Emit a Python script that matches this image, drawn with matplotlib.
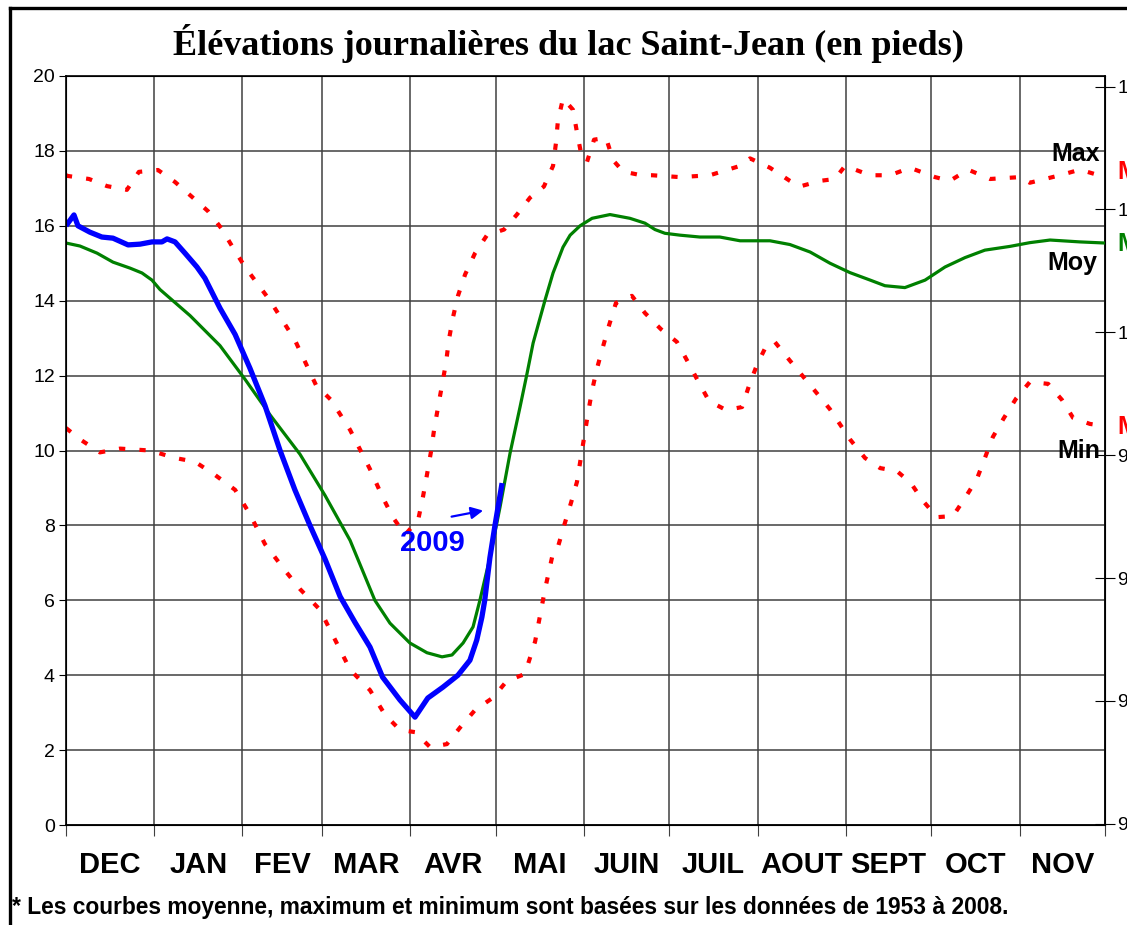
import matplotlib
matplotlib.use('Agg')
import matplotlib.pyplot as plt
from matplotlib.lines import Line2D
import numpy as np

# jours depuis le 1er décembre et élévations (pieds)
max_days = [0, 0.7, 8.1, 14.4, 21.4, 25.6, 32.3, 38.3, 44.3, 49.9, 54.5, 58.7, 62.9, 71.7, 80.4,
            87.8, 93.1, 99.8, 106.8, 111.2, 114.8, 119.1, 123.7, 125.4, 126.8, 128.2, 129.3,
            130.7, 132.1, 133.5, 134.5, 135.9, 137.7, 140.2, 143.7, 147.9, 153.9, 158.4, 163.0,
            167.9, 171.1, 172.1, 172.8, 174.6, 178.1, 179.5, 180.9, 183.0, 185.5, 189.7, 192.2,
            195.7, 202.0, 205.9, 215.7, 226.2, 236.8, 240.3, 247.3, 254.3, 257.8, 264.9, 270.1,
            273.7, 282.5, 289.5, 296.5, 305.3, 310.5, 316.9, 324.6, 335.1, 338.6, 349.2, 356.2, 365]
max_vals = [17.35, 17.33, 17.25, 17.06, 16.96, 17.44, 17.49, 17.17, 16.77, 16.39, 15.94, 15.41, 14.9, 14.0, 12.95,
            11.75, 11.35, 10.55, 9.5, 8.76, 8.22, 7.75, 8.14, 8.76, 9.35, 9.96, 10.55,
            11.16, 11.75, 12.34, 12.95, 13.54, 14.13, 14.7, 15.27, 15.75, 15.9, 16.3, 16.75,
            17.05, 17.6, 18.2, 18.8, 19.4, 19.1, 18.5, 17.95, 17.7, 18.3, 18.35, 17.75,
            17.45, 17.35, 17.35, 17.3, 17.35, 17.6, 17.8, 17.55, 17.2, 17.05, 17.2, 17.25,
            17.6, 17.35, 17.35, 17.55, 17.3, 17.2, 17.5, 17.25, 17.3, 17.15, 17.35, 17.5, 17.3]

min_days = [0, 4.9, 11.9, 19.0, 29.5, 38.3, 45.3, 52.3, 59.4, 64.6, 69.9, 76.9, 82.2, 89.2, 94.5,
            99.8, 106.8, 112.1, 117.3, 122.6, 127.9, 133.8, 138.4, 143.7, 150.0, 154.9, 161.2,
            164.8, 168.3, 170.9, 172.8, 175.0, 177.4, 179.5, 181.7, 183.4, 184.8, 186.5, 188.6,
            190.8, 193.2, 198.8, 203.4, 209.0, 214.6, 218.5, 222.0, 225.9, 231.9, 237.5, 239.9,
            242.7, 246.3, 249.0, 254.3, 261.4, 268.4, 275.4, 280.7, 286.0, 291.9, 296.8, 301.1,
            306.0, 311.6, 315.8, 320.0, 322.8, 325.6, 329.5, 333.7, 338.6, 345.0, 349.9, 353.8,
            359.7, 365]
min_vals = [10.6, 10.3, 9.95, 10.05, 10.0, 9.8, 9.7, 9.35, 8.95, 8.3, 7.5, 6.8, 6.3, 5.75, 4.95,
            4.15, 3.6, 2.94, 2.54, 2.48, 2.08, 2.16, 2.6, 3.07, 3.4, 3.85, 4.03,
            4.9, 6.3, 7.2, 7.42, 8.0, 8.6, 9.16, 10.2, 11.0, 11.6, 12.18, 12.76,
            13.35, 13.94, 14.13, 13.67, 13.24, 12.9, 12.36, 11.86, 11.32, 11.08, 11.16, 11.72,
            12.28, 12.84, 12.9, 12.4, 11.75, 11.1, 10.3, 9.8, 9.53, 9.45, 9.13, 8.65,
            8.22, 8.25, 8.73, 9.24, 9.8, 10.36, 10.87, 11.38, 11.83, 11.78, 11.35, 10.87,
            10.71, 10.65]

moy_days = [0, 4.9, 10.9, 16.5, 22.5, 26.7, 30.2, 33.0, 43.6, 54.1, 62.9, 71.7, 82.2, 91.0, 99.8,
            108.5, 113.8, 120.8, 126.8, 132.1, 135.6, 139.5, 143.0, 145.4, 148.9, 152.5, 156.0,
            159.5, 162.0, 164.1, 168.3, 171.1, 174.6, 177.1, 180.6, 184.8, 191.1, 198.1, 203.4,
            206.9, 210.4, 215.7, 222.7, 229.7, 236.8, 247.3, 254.3, 261.4, 268.4, 275.4, 282.5,
            287.7, 294.7, 301.8, 308.8, 315.8, 322.8, 331.6, 338.6, 345.7, 356.2, 365]
moy_vals = [15.54, 15.46, 15.27, 15.03, 14.87, 14.74, 14.55, 14.3, 13.6, 12.8, 11.9, 10.95, 9.9, 8.8, 7.6,
            6.0, 5.39, 4.86, 4.6, 4.49, 4.54, 4.86, 5.29, 6.0, 7.13, 8.5, 9.93,
            11.16, 12.07, 12.87, 14.02, 14.74, 15.43, 15.75, 16.0, 16.2, 16.3, 16.2, 16.07,
            15.9, 15.8, 15.75, 15.7, 15.7, 15.6, 15.6, 15.5, 15.3, 15.0, 14.75, 14.55,
            14.4, 14.35, 14.55, 14.9, 15.15, 15.35, 15.45, 15.55, 15.62, 15.57, 15.54]

y2009_days = [0, 2.8, 4.2, 8.4, 12.6, 16.5, 21.8, 26.0, 30.2, 33.7, 35.5, 38.3, 41.8, 46.0, 48.8,
              54.1, 59.4, 64.6, 69.9, 75.2, 80.4, 85.7, 91.0, 96.3, 101.6, 106.8, 111.2, 117.3,
              122.6, 127.1, 132.4, 137.7, 141.9, 144.3, 146.1, 147.1, 148.9, 150.7, 153.2]
y2009_vals = [16.0, 16.29, 16.0, 15.83, 15.7, 15.67, 15.49, 15.51, 15.57, 15.57, 15.65, 15.57, 15.27, 14.9, 14.6,
              13.8, 13.1, 12.2, 11.2, 10.0, 8.95, 8.0, 7.1, 6.1, 5.4, 4.75, 3.95, 3.34,
              2.88, 3.39, 3.68, 4.0, 4.4, 4.94, 5.55, 6.0, 7.13, 8.0, 9.13]

months = ['DEC', 'JAN', 'FEV', 'MAR', 'AVR', 'MAI', 'JUIN', 'JUIL', 'AOUT', 'SEPT', 'OCT', 'NOV']
month_len = [31, 31, 28, 31, 30, 31, 30, 31, 31, 30, 31, 30]
left_ticks = list(range(0, 21, 2))
right_ticks = list(range(96, 103))

plt.rcParams['font.family'] = ['Liberation Sans', 'DejaVu Sans']

bounds = np.concatenate([[0], np.cumsum(month_len)])
centers = (bounds[:-1] + bounds[1:]) / 2

fig = plt.figure(figsize=(11.27, 9.25), dpi=100)
ax = fig.add_axes([66 / 1127, 100 / 925, 1039 / 1127, 749 / 925])

ax.plot(max_days, max_vals, color='#ff0000', lw=3.0, linestyle=(0, (1.5, 3.4)), zorder=3)
ax.plot(min_days, min_vals, color='#ff0000', lw=3.0, linestyle=(0, (1.5, 3.4)), zorder=3)
ax.plot(moy_days, moy_vals, color='#008000', lw=2.3, zorder=4)
ax.plot(y2009_days, y2009_vals, color='#0000ff', lw=3.8, zorder=5, solid_capstyle='butt')

ax.set_xlim(0, 365)
ax.set_ylim(0, 20)
ax.set_yticks(left_ticks)
ax.set_xticks(bounds)
ax.set_xticklabels([])
ax.set_xticks(centers, minor=True)
ax.set_xticklabels(months, minor=True, fontsize=21, fontweight='bold')
ax.tick_params(axis='x', which='major', direction='out', length=8, color='#404040')
ax.tick_params(axis='x', which='minor', length=0, pad=19)
ax.tick_params(axis='y', direction='out', length=5, labelsize=14, pad=3)
ax.grid(True, which='major', color='#404040', lw=1.1)
for s in ax.spines.values():
    s.set_color('black')
    s.set_linewidth(1.2)

ax2 = ax.twinx()
ax2.set_ylim(95.99, 95.99 + 20 / 3.2808)
ax2.set_yticks(right_ticks)
ax2.tick_params(axis='y', direction='inout', length=14, labelsize=14, pad=2)

# étiquettes des courbes
ax.text(363.2, 17.92, 'Max', ha='right', va='center', fontsize=18, fontweight='bold', zorder=6)
ax.text(362.2, 15.0, 'Moy', ha='right', va='center', fontsize=18, fontweight='bold', zorder=6)
ax.text(363.2, 9.99, 'Min', ha='right', va='center', fontsize=18, fontweight='bold', zorder=6)
tr = ax.get_yaxis_transform()
ax.text(1.0116, 17.44, 'Max', transform=tr, color='#ff0000', fontsize=18, fontweight='bold',
        va='center', clip_on=False)
ax.text(1.0116, 15.51, 'Moy', transform=tr, color='#008000', fontsize=18, fontweight='bold',
        va='center', clip_on=False)
ax.text(1.0116, 10.63, 'Min', transform=tr, color='#ff0000', fontsize=18, fontweight='bold',
        va='center', clip_on=False)

ax.annotate('', xy=(147.5, 8.41), xytext=(134.5, 8.22),
            arrowprops=dict(arrowstyle='-|>', color='#0000ff', lw=1.6, mutation_scale=18))
ax.text(128.6, 7.53, '2009', color='#0000ff', fontsize=21, fontweight='bold',
        ha='center', va='center', zorder=6)

fig.text(568 / 1127, 1 - 55 / 925, 'Élévations journalières du lac Saint-Jean (en pieds)',
         ha='center', va='baseline', fontsize=26, fontweight='bold',
         family=['Liberation Serif', 'DejaVu Serif'])
fig.text(12 / 1127, 1 - 914 / 925,
         '* Les courbes moyenne, maximum et minimum sont basées sur les données de 1953 à 2008.',
         ha='left', va='baseline', fontsize=16.4, fontweight='bold')

fig.add_artist(Line2D([10 / 1127, 10 / 1127], [0, 1 - 8 / 925], color='black', lw=2.4))
fig.add_artist(Line2D([10 / 1127, 1], [1 - 8 / 925, 1 - 8 / 925], color='black', lw=2.4))

fig.savefig('out.png', dpi=100)
